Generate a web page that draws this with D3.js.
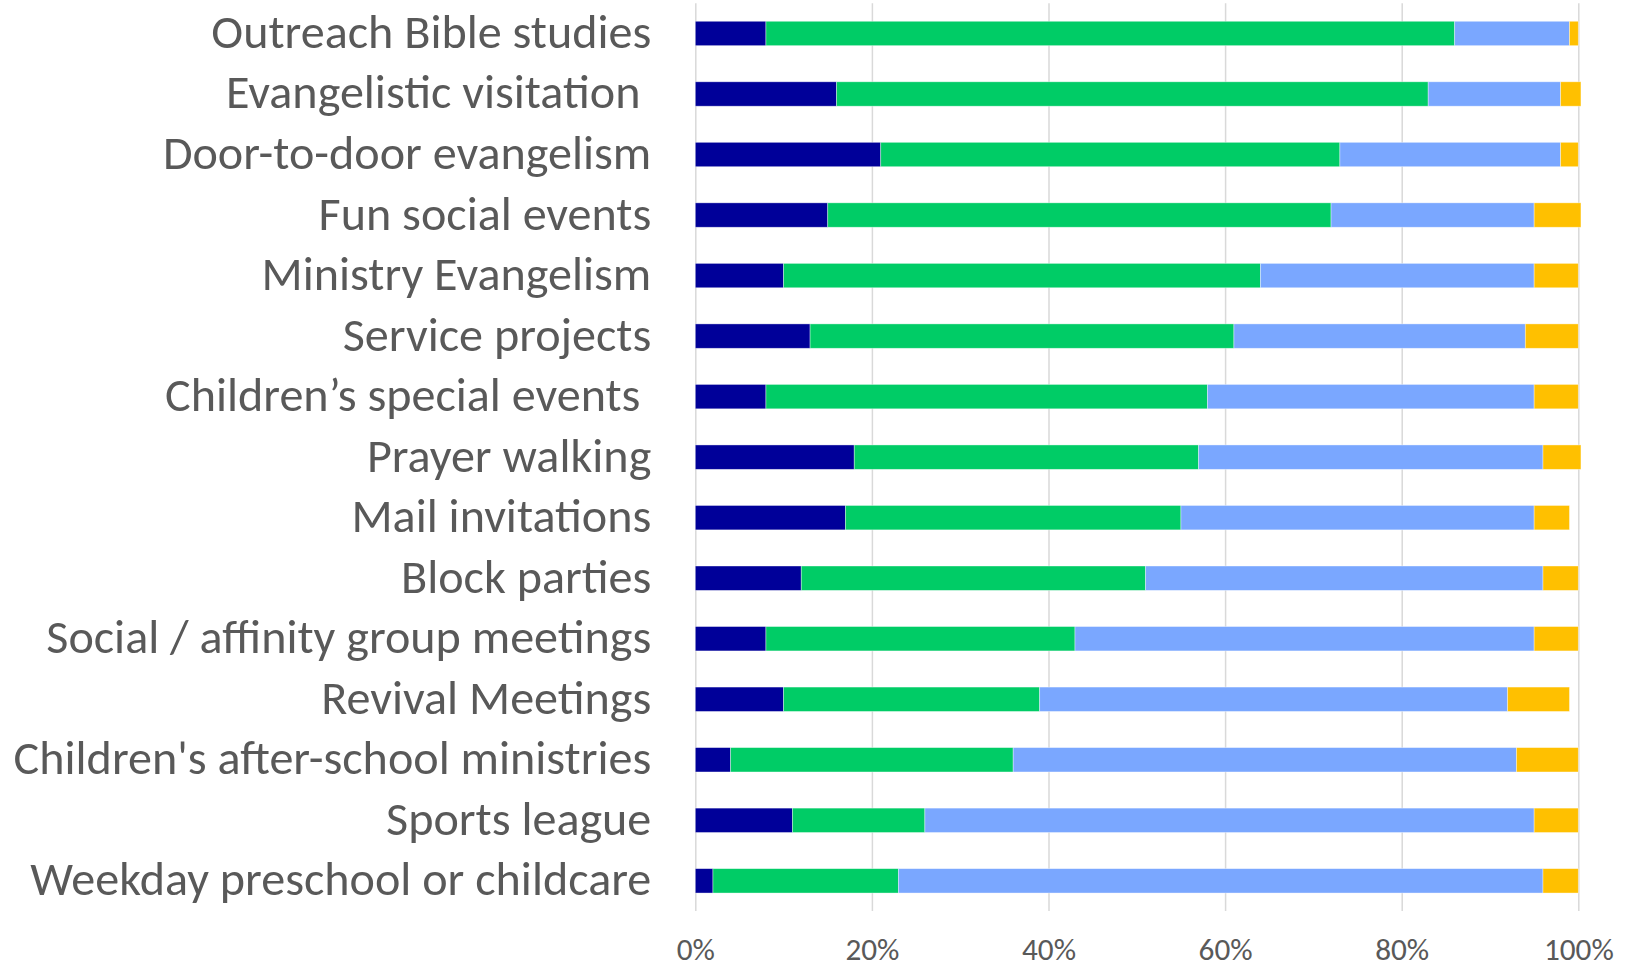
<!DOCTYPE html>
<html>
<head>
<meta charset="utf-8">
<script src="https://cdn.jsdelivr.net/npm/d3@7"></script>
<style>
  html, body { margin: 0; padding: 0; background: #ffffff; }
  svg { display: block; }
  text { font-family: Carlito, Calibri, Lato, sans-serif; fill: #595959; }
</style>
</head>
<body>
<svg id="chart" width="1631" height="967"></svg>
<script>
const categories = [
  "Outreach Bible studies",
  "Evangelistic visitation ",
  "Door-to-door evangelism",
  "Fun social events",
  "Ministry Evangelism",
  "Service projects",
  "Children\u2019s special events ",
  "Prayer walking",
  "Mail invitations",
  "Block parties",
  "Social / affinity group meetings",
  "Revival Meetings",
  "Children's after-school ministries",
  "Sports league",
  "Weekday preschool or childcare"
];
const seriesNames = ["Series 1", "Series 2", "Series 3", "Series 4"];
const series1 = [8, 16, 21, 15, 10, 13, 8, 18, 17, 12, 8, 10, 4, 11, 2];
const series2 = [78, 67, 52, 57, 54, 48, 50, 39, 38, 39, 35, 29, 32, 15, 21];
const series3 = [13, 15, 25, 23, 31, 33, 37, 39, 40, 45, 52, 53, 57, 69, 73];
const series4 = [1, 2.3, 2, 5.3, 5, 6, 5, 4.3, 4, 4, 5, 7, 7, 5, 4];
const tickValues = [0, 0.2, 0.4, 0.6, 0.8, 1.0];
const colors = ["#000099", "#00CC66", "#7AA7FF", "#FFC000"];

const svg = d3.select("#chart");
const margin = { left: 695.3, right: 1631 - 1578.3, top: 3.2, bottom: 967 - 911.1 };
const W = 1631, H = 967;

const x = d3.scaleLinear().domain([0, 1]).range([margin.left, W - margin.right]);
const y = d3.scaleBand().domain(categories).range([margin.top, H - margin.bottom]).paddingInner(0.597).paddingOuter(0.2985);

const allSeries = [series1, series2, series3, series4];
const rows = categories.map((c, i) => {
  const o = { cat: c };
  seriesNames.forEach((s, k) => { o[s] = allSeries[k][i] / 100; });
  return o;
});
const stacked = d3.stack().keys(seriesNames)(rows);

// gridlines
const grid = svg.append("g")
  .attr("transform", `translate(0,${margin.top})`)
  .call(d3.axisBottom(x).tickValues(tickValues).tickSize(H - margin.bottom - margin.top).tickFormat(""));
grid.select(".domain").remove();
grid.selectAll(".tick line").attr("stroke", "#d9d9d9").attr("stroke-width", 1.5);

// bars
svg.append("g").selectAll("g").data(stacked).join("g")
  .attr("fill", (d, i) => colors[i])
  .selectAll("rect").data(d => d).join("rect")
  .attr("x", d => x(d[0]))
  .attr("width", d => x(d[1]) - x(d[0]))
  .attr("y", d => y(d.data.cat))
  .attr("height", y.bandwidth())
  .attr("stroke", "#ffffff")
  .attr("stroke-opacity", 0.5)
  .attr("stroke-width", 0.75);

// x axis labels
const xAxis = svg.append("g")
  .attr("transform", `translate(0,${H - margin.bottom})`)
  .call(d3.axisBottom(x).tickValues(tickValues).tickSize(0).tickPadding(0).tickFormat(d3.format(".0%")));
xAxis.select(".domain").remove();

// y axis labels
const yAxis = svg.append("g")
  .attr("transform", `translate(${margin.left},0)`)
  .call(d3.axisLeft(y).tickSize(0).tickPadding(0));
yAxis.select(".domain").remove();

// size fonts to match reference widths
const catText = yAxis.selectAll(".tick text").style("white-space", "pre").attr("font-family", null);
catText.style("font-size", "48px");
const ref = catText.filter(d => d === "Outreach Bible studies").node();
const w48 = ref.getComputedTextLength();
const catFs = 48 * 440 / w48;
catText.style("font-size", catFs + "px")
  .attr("x", -44)
  .attr("y", -2)
  .attr("dy", null)
  .attr("dominant-baseline", "central")
  .attr("text-anchor", "end");

const tickText = xAxis.selectAll(".tick text").attr("font-family", null);
tickText.style("font-size", "32px");
const t20 = tickText.filter(d => d === 0.2).node();
const wt = t20.getComputedTextLength();
const tickFs = 32 * 54 / wt;
tickText.style("font-size", tickFs + "px")
  .attr("y", 38)
  .attr("dy", null)
  .attr("dominant-baseline", "central");
</script>
</body>
</html>
